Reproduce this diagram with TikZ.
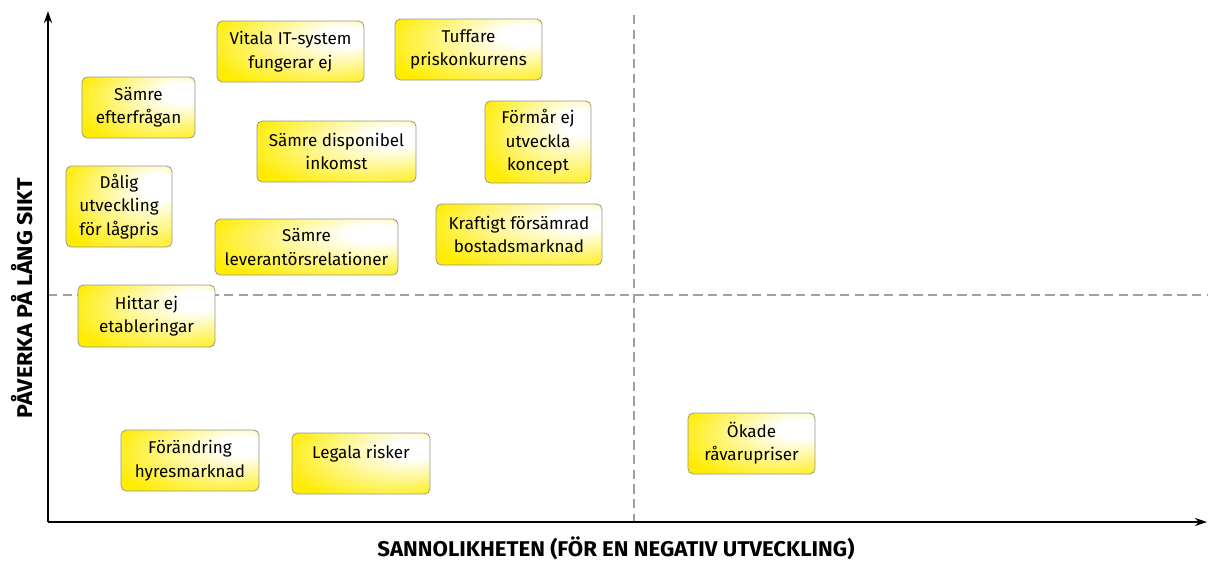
\documentclass[tikz,border=0pt]{standalone}
\usepackage{fontspec}
\setmainfont{Fira Sans}
\usepackage{graphicx}
\usetikzlibrary{arrows.meta}

\definecolor{riskyellow}{RGB}{255,236,0}
\definecolor{riskedge}{RGB}{150,150,150}
\definecolor{quadline}{RGB}{160,160,160}
\pgfdeclareradialshading{riskglow}{\pgfpoint{22bp}{14bp}}{%
  color(0bp)=(white); color(8bp)=(white); color(22bp)=(riskyellow!45!white);
  color(38bp)=(riskyellow); color(60bp)=(riskyellow)}

\tikzset{
  riskbox/.style 2 args={draw=riskedge, line width=0.6pt, rounded corners=4pt,
    shading=riskglow, minimum width=#1*0.75pt, minimum height=#2*0.75pt,
    align=center, inner sep=1pt, font=\fontsize{12.8}{17.5}\selectfont},
  axisline/.style={line width=1.5pt, -{Stealth[length=9pt,width=6pt]}},
  quadrant/.style={draw=quadline, line width=0.8pt, dash pattern=on 7pt off 4pt},
  axislabel/.style={inner sep=0pt, font=\fontsize{16}{16}\selectfont\bfseries}
}

\begin{document}
\begin{tikzpicture}[x=0.75pt,y=0.75pt,yscale=-1,xscale=1]
\useasboundingbox (0,0) rectangle (1208,562);

%Corner of the axes
\coordinate (origin) at (48,522);
\coordinate (ytop) at (48,11);
\coordinate (xend) at (1207,522);
\coordinate (vtop) at (634,15);
\coordinate (vbot) at (634,522);
\coordinate (hleft) at (48,295);
\coordinate (hright) at (1208,295);

%Dashed quadrant lines
\draw [quadrant] (vtop) -- (vbot) ;
\draw [quadrant] (hleft) -- (hright) ;

%Axes
\draw [axisline] (origin) -- (ytop) ;
\draw [axisline] (origin) -- (xend) ;

% Text Node
\node (itsystem) [riskbox={147}{61}] at (290.5,51.5) {Vitala IT-system\\fungerar ej};
% Text Node
\node (priskonk) [riskbox={147}{61}] at (468.5,49.5) {Tuffare\\priskonkurrens};
% Text Node
\node (efterfragan) [riskbox={113}{61}] at (138.5,107.5) {Sämre\\efterfrågan};
% Text Node
\node (inkomst) [riskbox={159}{61}] at (336.5,151.5) {Sämre disponibel\\inkomst};
% Text Node
\node (koncept) [riskbox={106}{82}] at (538,142) {Förmår ej\\utveckla\\koncept};
% Text Node
\node (lagpris) [riskbox={106}{81}] at (119,206.5) {Dålig\\utveckling\\för lågpris};
% Text Node
\node (leverantor) [riskbox={183}{56}] at (306.5,247) {Sämre\\leverantörsrelationer};
% Text Node
\node (bostad) [riskbox={166}{61}] at (519,234.5) {Kraftigt försämrad\\bostadsmarknad};
% Text Node
\node (etablering) [riskbox={137}{62}] at (146.5,316) {Hittar ej\\etableringar};
% Text Node
\node (hyres) [riskbox={138}{61}] at (190,460.5) {Förändring\\hyresmarknad};
% Text Node
\node (legala) [riskbox={138}{61}] at (361,463.5) {Legala risker\\\mbox{}};
% Text Node
\node (ravaror) [riskbox={127}{61}] at (751.5,443.5) {Ökade\\råvarupriser};

% Axis labels
\node (xlabel) [axislabel] at (616,548)
  {\resizebox{357.75pt}{\height}{SANNOLIKHETEN (FÖR EN NEGATIV UTVECKLING)}};
\node (ylabel) [axislabel, rotate=90] at (22,298)
  {\resizebox{180pt}{\height}{PÅVERKA PÅ LÅNG SIKT}};

\end{tikzpicture}
\end{document}
